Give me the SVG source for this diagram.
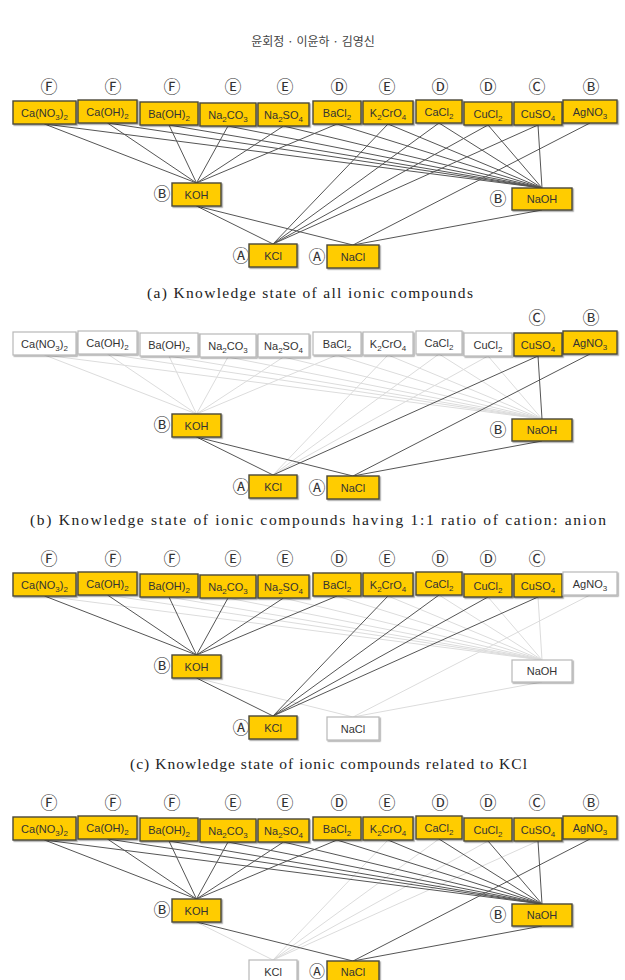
<svg xmlns="http://www.w3.org/2000/svg" width="625" height="980" viewBox="0 0 625 980">
<defs>
<filter id="sh" x="-10%" y="-10%" width="130%" height="140%"><feDropShadow dx="1.2" dy="1.2" stdDeviation="0.6" flood-color="#000" flood-opacity="0.35"/></filter>
<style>
.y rect{fill:#FFCC00;stroke:#4a4838;stroke-width:1.4;filter:url(#sh)}
.w rect{fill:#fff;stroke:#b8b8b8;stroke-width:1.2;filter:url(#sh)}
.y text,.w text{font-family:"Liberation Sans",Arial,sans-serif;font-size:11px;fill:#333;text-anchor:middle}
.s{font-size:8px;baseline-shift:-3px}
.lt{font-family:"Noto Sans CJK KR","DejaVu Sans",sans-serif;font-size:17px;fill:#333;text-anchor:middle}
.k{stroke:#555;stroke-width:1;fill:none}
.l{stroke:#dcdcdc;stroke-width:1;fill:none}
.cap{font-family:"Liberation Serif","Noto Sans CJK KR",serif;font-size:15.5px;fill:#222}
.hd{font-family:"Noto Sans CJK KR",sans-serif;font-size:12px;fill:#444;text-anchor:middle}
</style>
</defs>
<rect width="625" height="980" fill="#fff"/>
<text class="hd" x="313" y="46">윤회정 · 이윤하 · 김영신</text>

<!-- ===== Panel (a) ===== -->
<g id="panel-a">
<g id="a-connectors">
<path class="k" d="M44.5,124L196.5,183M107.5,123L196.5,183M169,125L196.5,183M228,126L196.5,183M283.5,126L196.5,183M337,124L196.5,183"/>
<path class="k" d="M44.5,124L542,188M107.5,123L542,188M169,125L542,188M228,126L542,188M283.5,126L542,188M337,124L542,188"/>
<path class="k" d="M388,124L273,244M439,123L273,244M488,125L273,244M538,125L273,244"/>
<path class="k" d="M388,124L542,188M439,123L542,188M488,125L542,188M538,125L542,188"/>
<path class="k" d="M590,123L353,245M196.5,206L273,244M196.5,206L353,245M542,210L353,245"/>
</g>
<g class="lt">
<text x="49" y="93">Ⓕ</text><text x="113" y="93">Ⓕ</text><text x="172" y="93">Ⓕ</text><text x="233" y="93">Ⓔ</text><text x="285" y="93">Ⓔ</text><text x="339" y="93">Ⓓ</text><text x="387" y="93">Ⓔ</text><text x="440" y="93">Ⓓ</text><text x="488" y="93">Ⓓ</text><text x="537" y="93">Ⓒ</text><text x="591" y="93">Ⓑ</text>
<text x="162" y="200">Ⓑ</text><text x="498" y="205">Ⓑ</text><text x="241" y="262">Ⓐ</text><text x="317" y="263">Ⓐ</text>
</g>
<g id="a-CaNO32" class="y"><rect x="13" y="101" width="63" height="23"/><text x="44.5" y="117">Ca(NO<tspan class="s">3</tspan>)<tspan class="s">2</tspan></text></g>
<g id="a-CaOH2" class="y"><rect x="78" y="100" width="59" height="23"/><text x="107.5" y="116">Ca(OH)<tspan class="s">2</tspan></text></g>
<g id="a-BaOH2" class="y"><rect x="140" y="102" width="58" height="23"/><text x="169" y="118">Ba(OH)<tspan class="s">2</tspan></text></g>
<g id="a-Na2CO3" class="y"><rect x="200" y="103" width="56" height="23"/><text x="228" y="119">Na<tspan class="s">2</tspan>CO<tspan class="s">3</tspan></text></g>
<g id="a-Na2SO4" class="y"><rect x="258" y="103" width="51" height="23"/><text x="283.5" y="119">Na<tspan class="s">2</tspan>SO<tspan class="s">4</tspan></text></g>
<g id="a-BaCl2" class="y"><rect x="313" y="101" width="48" height="23"/><text x="337" y="117">BaCl<tspan class="s">2</tspan></text></g>
<g id="a-K2CrO4" class="y"><rect x="363" y="101" width="50" height="23"/><text x="388" y="117">K<tspan class="s">2</tspan>CrO<tspan class="s">4</tspan></text></g>
<g id="a-CaCl2" class="y"><rect x="416" y="100" width="46" height="23"/><text x="439" y="116">CaCl<tspan class="s">2</tspan></text></g>
<g id="a-CuCl2" class="y"><rect x="464" y="102" width="48" height="23"/><text x="488" y="118">CuCl<tspan class="s">2</tspan></text></g>
<g id="a-CuSO4" class="y"><rect x="514" y="102" width="48" height="23"/><text x="538" y="118">CuSO<tspan class="s">4</tspan></text></g>
<g id="a-AgNO3" class="y"><rect x="563" y="100" width="54" height="23"/><text x="590" y="116">AgNO<tspan class="s">3</tspan></text></g>
<g id="a-KOH" class="y"><rect x="172" y="183" width="49" height="23"/><text x="196.5" y="199">KOH</text></g>
<g id="a-NaOH" class="y"><rect x="512" y="188" width="60" height="22"/><text x="542" y="203">NaOH</text></g>
<g id="a-KCl" class="y"><rect x="249" y="244" width="48" height="23"/><text x="273" y="260">KCl</text></g>
<g id="a-NaCl" class="y"><rect x="327" y="245" width="52" height="23"/><text x="353" y="261">NaCl</text></g>
<text class="cap" x="147" y="298" textLength="326" lengthAdjust="spacing">(a) Knowledge state of all ionic compounds</text>
</g>

<!-- ===== Panel (b) ===== -->
<g id="panel-b" transform="translate(0,231)">
<g id="b-connectors">
<path class="l" d="M44.5,124L196.5,183M107.5,123L196.5,183M169,125L196.5,183M228,126L196.5,183M283.5,126L196.5,183M337,124L196.5,183"/>
<path class="l" d="M44.5,124L542,188M107.5,123L542,188M169,125L542,188M228,126L542,188M283.5,126L542,188M337,124L542,188"/>
<path class="l" d="M388,124L273,244M439,123L273,244M488,125L273,244"/>
<path class="l" d="M388,124L542,188M439,123L542,188M488,125L542,188"/>
<path class="k" d="M538,125L273,244M538,125L542,188M590,123L353,245M196.5,206L273,244M196.5,206L353,245M542,210L353,245"/>
</g>
<g class="lt">
<text x="537" y="93">Ⓒ</text><text x="591" y="93">Ⓑ</text>
<text x="162" y="200">Ⓑ</text><text x="498" y="205">Ⓑ</text><text x="241" y="262">Ⓐ</text><text x="317" y="263">Ⓐ</text>
</g>
<g id="b-CaNO32" class="w"><rect x="13" y="101" width="63" height="23"/><text x="44.5" y="117">Ca(NO<tspan class="s">3</tspan>)<tspan class="s">2</tspan></text></g>
<g id="b-CaOH2" class="w"><rect x="78" y="100" width="59" height="23"/><text x="107.5" y="116">Ca(OH)<tspan class="s">2</tspan></text></g>
<g id="b-BaOH2" class="w"><rect x="140" y="102" width="58" height="23"/><text x="169" y="118">Ba(OH)<tspan class="s">2</tspan></text></g>
<g id="b-Na2CO3" class="w"><rect x="200" y="103" width="56" height="23"/><text x="228" y="119">Na<tspan class="s">2</tspan>CO<tspan class="s">3</tspan></text></g>
<g id="b-Na2SO4" class="w"><rect x="258" y="103" width="51" height="23"/><text x="283.5" y="119">Na<tspan class="s">2</tspan>SO<tspan class="s">4</tspan></text></g>
<g id="b-BaCl2" class="w"><rect x="313" y="101" width="48" height="23"/><text x="337" y="117">BaCl<tspan class="s">2</tspan></text></g>
<g id="b-K2CrO4" class="w"><rect x="363" y="101" width="50" height="23"/><text x="388" y="117">K<tspan class="s">2</tspan>CrO<tspan class="s">4</tspan></text></g>
<g id="b-CaCl2" class="w"><rect x="416" y="100" width="46" height="23"/><text x="439" y="116">CaCl<tspan class="s">2</tspan></text></g>
<g id="b-CuCl2" class="w"><rect x="464" y="102" width="48" height="23"/><text x="488" y="118">CuCl<tspan class="s">2</tspan></text></g>
<g id="b-CuSO4" class="y"><rect x="514" y="102" width="48" height="23"/><text x="538" y="118">CuSO<tspan class="s">4</tspan></text></g>
<g id="b-AgNO3" class="y"><rect x="563" y="100" width="54" height="23"/><text x="590" y="116">AgNO<tspan class="s">3</tspan></text></g>
<g id="b-KOH" class="y"><rect x="172" y="183" width="49" height="23"/><text x="196.5" y="199">KOH</text></g>
<g id="b-NaOH" class="y"><rect x="512" y="188" width="60" height="22"/><text x="542" y="203">NaOH</text></g>
<g id="b-KCl" class="y"><rect x="249" y="244" width="48" height="23"/><text x="273" y="260">KCl</text></g>
<g id="b-NaCl" class="y"><rect x="327" y="245" width="52" height="23"/><text x="353" y="261">NaCl</text></g>
<text class="cap" x="30" y="294" textLength="576" lengthAdjust="spacing">(b) Knowledge state of ionic compounds having 1:1 ratio of cation: anion</text>
</g>

<!-- ===== Panel (c) ===== -->
<g id="panel-c" transform="translate(0,472)">
<g id="c-connectors">
<path class="l" d="M44.5,124L542,188M107.5,123L542,188M169,125L542,188M228,126L542,188M283.5,126L542,188M337,124L542,188"/>
<path class="l" d="M388,124L542,188M439,123L542,188M488,125L542,188M538,125L542,188"/>
<path class="l" d="M590,123L353,245M196.5,206L353,245M542,210L353,245"/>
<path class="k" d="M44.5,124L196.5,183M107.5,123L196.5,183M169,125L196.5,183M228,126L196.5,183M283.5,126L196.5,183M337,124L196.5,183"/>
<path class="k" d="M388,124L273,244M439,123L273,244M488,125L273,244M538,125L273,244M196.5,206L273,244"/>
</g>
<g class="lt">
<text x="49" y="93">Ⓕ</text><text x="113" y="93">Ⓕ</text><text x="172" y="93">Ⓕ</text><text x="233" y="93">Ⓔ</text><text x="285" y="93">Ⓔ</text><text x="339" y="93">Ⓓ</text><text x="387" y="93">Ⓔ</text><text x="440" y="93">Ⓓ</text><text x="488" y="93">Ⓓ</text><text x="537" y="93">Ⓒ</text>
<text x="162" y="200">Ⓑ</text><text x="241" y="262">Ⓐ</text>
</g>
<g id="c-CaNO32" class="y"><rect x="13" y="101" width="63" height="23"/><text x="44.5" y="117">Ca(NO<tspan class="s">3</tspan>)<tspan class="s">2</tspan></text></g>
<g id="c-CaOH2" class="y"><rect x="78" y="100" width="59" height="23"/><text x="107.5" y="116">Ca(OH)<tspan class="s">2</tspan></text></g>
<g id="c-BaOH2" class="y"><rect x="140" y="102" width="58" height="23"/><text x="169" y="118">Ba(OH)<tspan class="s">2</tspan></text></g>
<g id="c-Na2CO3" class="y"><rect x="200" y="103" width="56" height="23"/><text x="228" y="119">Na<tspan class="s">2</tspan>CO<tspan class="s">3</tspan></text></g>
<g id="c-Na2SO4" class="y"><rect x="258" y="103" width="51" height="23"/><text x="283.5" y="119">Na<tspan class="s">2</tspan>SO<tspan class="s">4</tspan></text></g>
<g id="c-BaCl2" class="y"><rect x="313" y="101" width="48" height="23"/><text x="337" y="117">BaCl<tspan class="s">2</tspan></text></g>
<g id="c-K2CrO4" class="y"><rect x="363" y="101" width="50" height="23"/><text x="388" y="117">K<tspan class="s">2</tspan>CrO<tspan class="s">4</tspan></text></g>
<g id="c-CaCl2" class="y"><rect x="416" y="100" width="46" height="23"/><text x="439" y="116">CaCl<tspan class="s">2</tspan></text></g>
<g id="c-CuCl2" class="y"><rect x="464" y="102" width="48" height="23"/><text x="488" y="118">CuCl<tspan class="s">2</tspan></text></g>
<g id="c-CuSO4" class="y"><rect x="514" y="102" width="48" height="23"/><text x="538" y="118">CuSO<tspan class="s">4</tspan></text></g>
<g id="c-AgNO3" class="w"><rect x="563" y="100" width="54" height="23"/><text x="590" y="116">AgNO<tspan class="s">3</tspan></text></g>
<g id="c-KOH" class="y"><rect x="172" y="183" width="49" height="23"/><text x="196.5" y="199">KOH</text></g>
<g id="c-NaOH" class="w"><rect x="512" y="188" width="60" height="22"/><text x="542" y="203">NaOH</text></g>
<g id="c-KCl" class="y"><rect x="249" y="244" width="48" height="23"/><text x="273" y="260">KCl</text></g>
<g id="c-NaCl" class="w"><rect x="327" y="245" width="52" height="23"/><text x="353" y="261">NaCl</text></g>
<text class="cap" x="130" y="297" textLength="397" lengthAdjust="spacing">(c) Knowledge state of ionic compounds related to KCl</text>
</g>

<!-- ===== Panel (d) ===== -->
<g id="panel-d" transform="translate(0,716)">
<g id="d-connectors">
<path class="l" d="M388,124L273,244M439,123L273,244M488,125L273,244M538,125L273,244M196.5,206L273,244"/>
<path class="k" d="M44.5,124L196.5,183M107.5,123L196.5,183M169,125L196.5,183M228,126L196.5,183M283.5,126L196.5,183M337,124L196.5,183"/>
<path class="k" d="M44.5,124L542,188M107.5,123L542,188M169,125L542,188M228,126L542,188M283.5,126L542,188M337,124L542,188"/>
<path class="k" d="M388,124L542,188M439,123L542,188M488,125L542,188M538,125L542,188"/>
<path class="k" d="M590,123L353,245M196.5,206L353,245M542,210L353,245"/>
</g>
<g class="lt">
<text x="49" y="93">Ⓕ</text><text x="113" y="93">Ⓕ</text><text x="172" y="93">Ⓕ</text><text x="233" y="93">Ⓔ</text><text x="285" y="93">Ⓔ</text><text x="339" y="93">Ⓓ</text><text x="387" y="93">Ⓔ</text><text x="440" y="93">Ⓓ</text><text x="488" y="93">Ⓓ</text><text x="537" y="93">Ⓒ</text><text x="591" y="93">Ⓑ</text>
<text x="162" y="200">Ⓑ</text><text x="498" y="205">Ⓑ</text><text x="317" y="261" font-size="16">Ⓐ</text>
</g>
<g id="d-CaNO32" class="y"><rect x="13" y="101" width="63" height="23"/><text x="44.5" y="117">Ca(NO<tspan class="s">3</tspan>)<tspan class="s">2</tspan></text></g>
<g id="d-CaOH2" class="y"><rect x="78" y="100" width="59" height="23"/><text x="107.5" y="116">Ca(OH)<tspan class="s">2</tspan></text></g>
<g id="d-BaOH2" class="y"><rect x="140" y="102" width="58" height="23"/><text x="169" y="118">Ba(OH)<tspan class="s">2</tspan></text></g>
<g id="d-Na2CO3" class="y"><rect x="200" y="103" width="56" height="23"/><text x="228" y="119">Na<tspan class="s">2</tspan>CO<tspan class="s">3</tspan></text></g>
<g id="d-Na2SO4" class="y"><rect x="258" y="103" width="51" height="23"/><text x="283.5" y="119">Na<tspan class="s">2</tspan>SO<tspan class="s">4</tspan></text></g>
<g id="d-BaCl2" class="y"><rect x="313" y="101" width="48" height="23"/><text x="337" y="117">BaCl<tspan class="s">2</tspan></text></g>
<g id="d-K2CrO4" class="y"><rect x="363" y="101" width="50" height="23"/><text x="388" y="117">K<tspan class="s">2</tspan>CrO<tspan class="s">4</tspan></text></g>
<g id="d-CaCl2" class="y"><rect x="416" y="100" width="46" height="23"/><text x="439" y="116">CaCl<tspan class="s">2</tspan></text></g>
<g id="d-CuCl2" class="y"><rect x="464" y="102" width="48" height="23"/><text x="488" y="118">CuCl<tspan class="s">2</tspan></text></g>
<g id="d-CuSO4" class="y"><rect x="514" y="102" width="48" height="23"/><text x="538" y="118">CuSO<tspan class="s">4</tspan></text></g>
<g id="d-AgNO3" class="y"><rect x="563" y="100" width="54" height="23"/><text x="590" y="116">AgNO<tspan class="s">3</tspan></text></g>
<g id="d-KOH" class="y"><rect x="172" y="183" width="49" height="23"/><text x="196.5" y="199">KOH</text></g>
<g id="d-NaOH" class="y"><rect x="512" y="188" width="60" height="22"/><text x="542" y="203">NaOH</text></g>
<g id="d-KCl" class="w"><rect x="249" y="244" width="48" height="23"/><text x="273" y="260">KCl</text></g>
<g id="d-NaCl" class="y"><rect x="327" y="245" width="52" height="23"/><text x="353" y="260">NaCl</text></g>
</g>
</svg>
